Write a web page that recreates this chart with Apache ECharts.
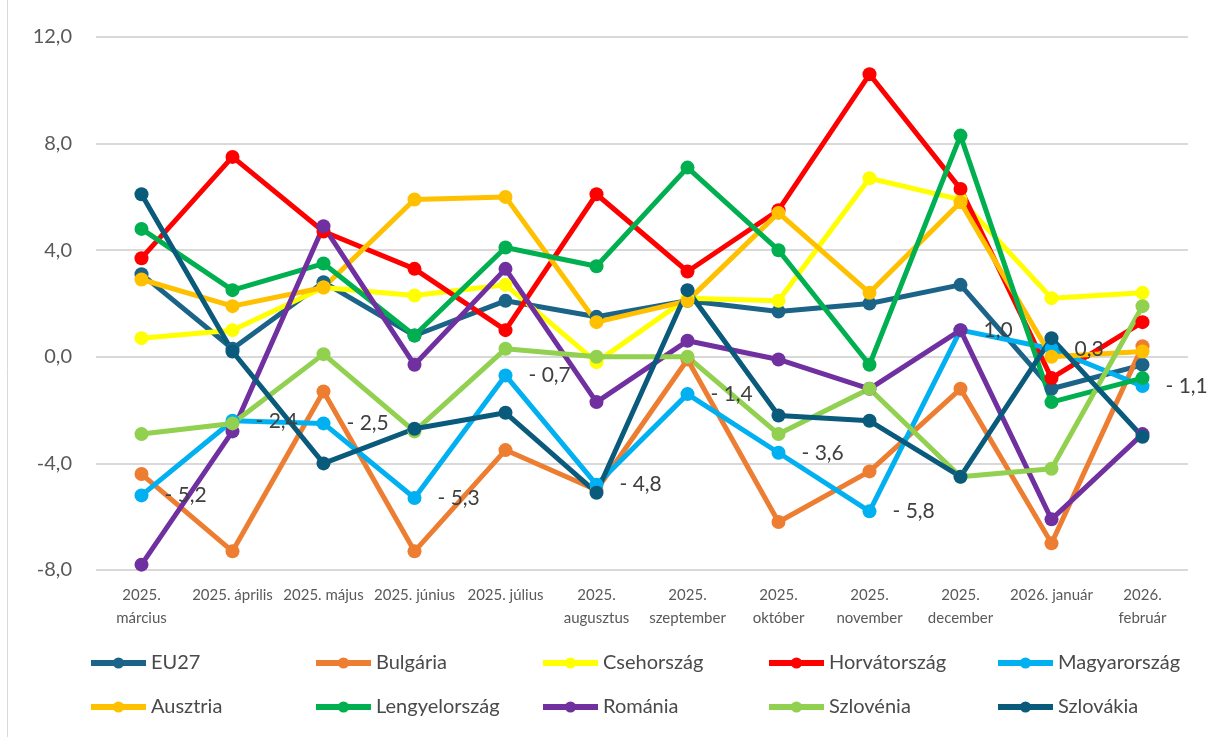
<!DOCTYPE html>
<html>
<head>
<meta charset="utf-8">
<script src="https://cdn.jsdelivr.net/npm/echarts@6/dist/echarts.min.js"></script>
<style>
  html, body { margin: 0; padding: 0; background: #fff; }
  #chart { width: 1214px; height: 737px; }
</style>
</head>
<body>
<div id="chart"></div>
<script>
const months = ['2025.\nmárcius', '2025. április', '2025. május', '2025. június', '2025. július',
  '2025.\naugusztus', '2025.\nszeptember', '2025.\noktóber', '2025.\nnovember', '2025.\ndecember',
  '2026. január', '2026.\nfebruár']

const eu27 = [3.1, 0.3, 2.8, 0.8, 2.1, 1.5, 2.1, 1.7, 2.0, 2.7, -1.2, -0.3]
const bulgaria = [-4.4, -7.3, -1.3, -7.3, -3.5, -5.0, -0.1, -6.2, -4.3, -1.2, -7.0, 0.4]
const csehorszag = [0.7, 1.0, 2.6, 2.3, 2.7, -0.2, 2.2, 2.1, 6.7, 5.9, 2.2, 2.4]
const horvatorszag = [3.7, 7.5, 4.7, 3.3, 1.0, 6.1, 3.2, 5.5, 10.6, 6.3, -0.8, 1.3]
const magyarorszag = [-5.2, -2.4, -2.5, -5.3, -0.7, -4.8, -1.4, -3.6, -5.8, 1.0, 0.3, -1.1]
const ausztria = [2.9, 1.9, 2.6, 5.9, 6.0, 1.3, 2.1, 5.4, 2.4, 5.8, 0.0, 0.2]
const lengyelorszag = [4.8, 2.5, 3.5, 0.8, 4.1, 3.4, 7.1, 4.0, -0.3, 8.3, -1.7, -0.8]
const romania = [-7.8, -2.8, 4.9, -0.3, 3.3, -1.7, 0.6, -0.1, -1.2, 1.0, -6.1, -2.9]
const szlovenia = [-2.9, -2.5, 0.1, -2.8, 0.3, 0.0, 0.0, -2.9, -1.2, -4.5, -4.2, 1.9]
const szlovakia = [6.1, 0.2, -4.0, -2.7, -2.1, -5.1, 2.5, -2.2, -2.4, -4.5, 0.7, -3.0]

const seriesDefs = [
  { name: 'EU27', data: eu27, color: '#1B6488' },
  { name: 'Bulgária', data: bulgaria, color: '#ED7D31' },
  { name: 'Csehország', data: csehorszag, color: '#FFFF00' },
  { name: 'Horvátország', data: horvatorszag, color: '#FF0000' },
  { name: 'Magyarország', data: magyarorszag, color: '#00B0F0', labels: true },
  { name: 'Ausztria', data: ausztria, color: '#FFC000' },
  { name: 'Lengyelország', data: lengyelorszag, color: '#00B050' },
  { name: 'Románia', data: romania, color: '#7030A0' },
  { name: 'Szlovénia', data: szlovenia, color: '#92D050' },
  { name: 'Szlovákia', data: szlovakia, color: '#0A5A7C' }
]

const fontFamily = 'Lato, "Noto Sans", sans-serif'
const comma = (v) => v.toFixed(1).replace('.', ',')
const labelFmt = (v) => v < 0 ? '- ' + comma(-v) : comma(v)

const chart = echarts.init(document.getElementById('chart'))

// one legend per cell, 5 columns x 2 rows
const legendCols = [88, 313, 540, 766, 995]
const legendRows = [653, 697]
const legends = seriesDefs.map((s, i) => ({
  left: legendCols[i % 5],
  top: legendRows[Math.floor(i / 5)],
  padding: 0,
  itemWidth: 55,
  itemHeight: 14,
  itemGap: 0,
  lineStyle: { width: 6 },
  data: [s.name],
  textStyle: { fontFamily, fontSize: 20, color: '#4a4a4a' }
}))

const option = {
  animation: false,
  textStyle: { fontFamily },
  grid: { left: 96, right: 26, top: 37, bottom: 167 },
  legend: legends,
  graphic: [{
    type: 'line',
    shape: { x1: 7.5, y1: 0, x2: 7.5, y2: 737 },
    style: { stroke: '#d9d9d9', lineWidth: 1 }
  }],
  xAxis: {
    type: 'category',
    data: months,
    boundaryGap: true,
    axisLine: { show: false },
    axisTick: { show: false },
    axisLabel: {
      interval: 0,
      margin: 14,
      color: '#595959',
      fontSize: 15,
      lineHeight: 23,
      fontFamily
    }
  },
  yAxis: {
    type: 'value',
    min: -8,
    max: 12,
    interval: 4,
    axisLine: { show: false },
    axisTick: { show: false },
    axisLabel: {
      margin: 24,
      color: '#595959',
      fontSize: 20,
      fontFamily,
      formatter: comma
    },
    splitLine: { lineStyle: { color: '#d9d9d9', width: 2 } }
  },
  series: seriesDefs.map(s => ({
    name: s.name,
    type: 'line',
    data: s.data,
    symbol: 'circle',
    symbolSize: 14,
    lineStyle: { width: 5, color: s.color },
    itemStyle: { color: s.color },
    label: s.labels ? {
      show: true,
      position: 'right',
      distance: 16,
      color: '#404040',
      fontSize: 21,
      fontFamily,
      formatter: (p) => labelFmt(p.value)
    } : { show: false }
  }))
}

chart.setOption(option)
</script>
</body>
</html>
